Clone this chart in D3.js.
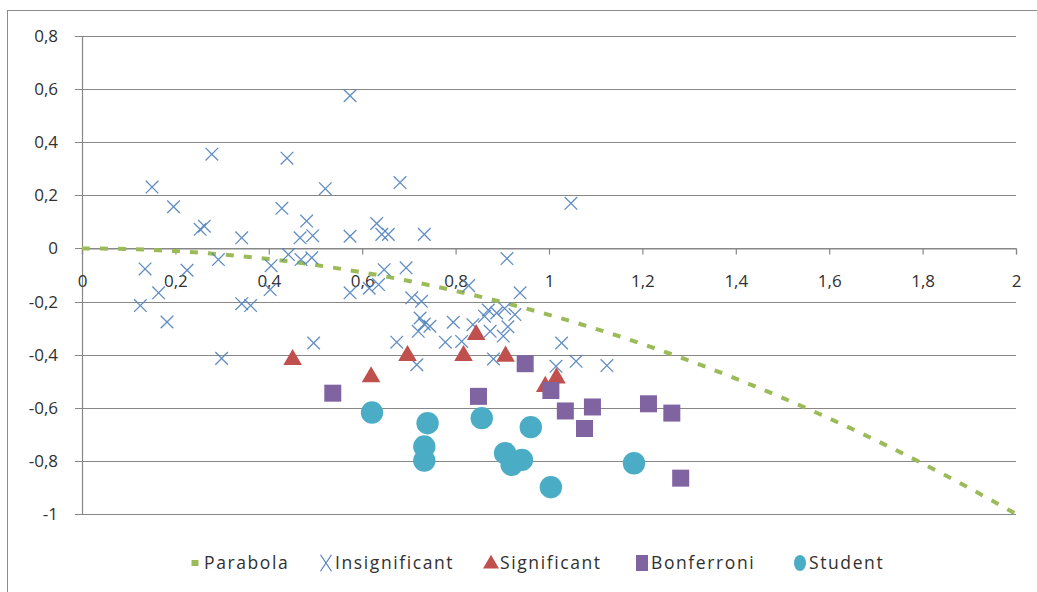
<!DOCTYPE html>
<html>
<head>
<meta charset="utf-8">
<script src="https://cdn.jsdelivr.net/npm/d3@7"></script>
<style>
  html, body { margin: 0; padding: 0; background: #ffffff; }
  svg { display: block; }
  text { font-family: "Open Sans", "Noto Sans", sans-serif; fill: #303030; }
</style>
</head>
<body>
<svg id="chart" width="1037" height="592"></svg>
<script>
// ---------------- data ----------------
const xTicks = [0, 0.2, 0.4, 0.6, 0.8, 1, 1.2, 1.4, 1.6, 1.8, 2];
const yTicks = [-1, -0.8, -0.6, -0.4, -0.2, 0, 0.2, 0.4, 0.6, 0.8];
const seriesNames = ["Parabola", "Insignificant", "Significant", "Bonferroni", "Student"];

const parabolaX = [0, 0.1, 0.2, 0.3, 0.4, 0.5, 0.6, 0.7, 0.8, 0.9, 1, 1.1, 1.2, 1.3, 1.4, 1.5, 1.6, 1.7, 1.8, 1.9, 2];
const parabolaY = [0, -0.0025, -0.01, -0.0225, -0.04, -0.0625, -0.09, -0.1225, -0.16, -0.2025, -0.25,
                   -0.3025, -0.36, -0.4225, -0.49, -0.5625, -0.64, -0.7225, -0.81, -0.9025, -1];

const insignificantX = [0.135, 0.150, 0.164, 0.125, 0.182, 0.196, 0.225, 0.253, 0.262, 0.278,
                        0.292, 0.299, 0.342, 0.342, 0.361, 0.403, 0.405, 0.428, 0.439, 0.442,
                        0.467, 0.469, 0.481, 0.494, 0.492, 0.496, 0.521, 0.574, 0.574, 0.574,
                        0.615, 0.631, 0.635, 0.642, 0.656, 0.647, 0.674, 0.681, 0.694, 0.706,
                        0.717, 0.720, 0.724, 0.727, 0.733, 0.745, 0.733, 0.778, 0.795, 0.813,
                        0.828, 0.837, 0.862, 0.874, 0.881, 0.888, 0.905, 0.902, 0.910, 0.912,
                        0.927, 0.938, 1.027, 1.015, 1.047, 1.058, 1.124, 0.870];
const insignificantY = [-0.077, 0.231, -0.167, -0.215, -0.277, 0.157, -0.082, 0.072, 0.084, 0.355,
                        -0.042, -0.414, 0.040, -0.208, -0.215, -0.155, -0.065, 0.151, 0.340, -0.023,
                        0.040, -0.042, 0.103, 0.048, -0.035, -0.356, 0.225, 0.575, 0.046, -0.167,
                        -0.150, 0.094, -0.136, 0.053, 0.053, -0.080, -0.353, 0.248, -0.073, -0.186,
                        -0.438, -0.312, -0.262, -0.199, 0.053, -0.293, -0.285, -0.353, -0.278, -0.350,
                        -0.140, -0.287, -0.255, -0.312, -0.416, -0.243, -0.226, -0.330, -0.038, -0.295,
                        -0.249, -0.167, -0.356, -0.444, 0.170, -0.425, -0.441, -0.232];

const significantX = [0.451, 0.619, 0.697, 0.817, 0.844, 0.907, 0.992, 1.016];
const significantY = [-0.419, -0.484, -0.404, -0.404, -0.325, -0.406, -0.520, -0.488];

const bonferroniX = [0.537, 0.849, 0.949, 1.004, 1.035, 1.093, 1.076, 1.213, 1.263, 1.282];
const bonferroniY = [-0.545, -0.557, -0.434, -0.535, -0.612, -0.597, -0.678, -0.585, -0.620, -0.865];

const studentX = [0.621, 0.740, 0.733, 0.733, 0.856, 0.961, 0.906, 0.942, 0.920, 1.004, 1.182];
const studentY = [-0.618, -0.658, -0.746, -0.799, -0.639, -0.673, -0.771, -0.796, -0.815, -0.899, -0.809];

const colors = { Parabola: "#9BBB59", Insignificant: "#4F81BD", Significant: "#C0504D", Bonferroni: "#8064A2", Student: "#4BACC6" };

// ---------------- chart ----------------
const svg = d3.select("#chart");
const x = d3.scaleLinear().domain([0, 2]).range([82, 1016]);
const y = d3.scaleLinear().domain([-1, 0.8]).range([514, 36]);
const fmt = v => (Math.round(v * 10) / 10).toString().replace(".", ",");
const grid = "#878787";

// frame
svg.append("rect").attr("x", 7.5).attr("y", 10.5).attr("width", 1040).attr("height", 600)
  .attr("fill", "none").attr("stroke", "#8c8c8c").attr("stroke-width", 1);

// horizontal gridlines
svg.append("g").selectAll("line").data(yTicks).join("line")
  .attr("x1", 75).attr("x2", x(2))
  .attr("y1", d => Math.round(y(d)) + 0.5).attr("y2", d => Math.round(y(d)) + 0.5)
  .attr("stroke", grid).attr("stroke-width", 1.2);

// y axis line
svg.append("line").attr("x1", x(0) + 0.5).attr("x2", x(0) + 0.5)
  .attr("y1", y(0.8)).attr("y2", y(-1)).attr("stroke", grid).attr("stroke-width", 1.2);

// x axis via d3.axisBottom positioned at y=0
const xAxis = d3.axisBottom(x).tickValues(xTicks).tickFormat(fmt).tickSize(6).tickPadding(20);
const gx = svg.append("g").attr("transform", `translate(0,${Math.round(y(0)) + 0.5})`).call(xAxis);
gx.select(".domain").attr("stroke", grid).attr("stroke-width", 1.2);
gx.selectAll(".tick line").attr("stroke", grid).attr("stroke-width", 1.2);
gx.selectAll(".tick text").attr("font-size", 17).attr("fill", "#303030")
  .style("font-family", '"Open Sans", sans-serif');

// y labels via axisLeft
const yAxis = d3.axisLeft(y).tickValues(yTicks).tickFormat(fmt).tickSize(0).tickPadding(24);
const gy = svg.append("g").attr("transform", `translate(${x(0)},0)`).call(yAxis);
gy.select(".domain").remove();
gy.selectAll(".tick text").attr("font-size", 17).attr("fill", "#303030")
  .style("font-family", '"Open Sans", sans-serif');

// parabola
const line = d3.line().x((d, i) => x(parabolaX[i])).y(d => y(d)).curve(d3.curveCatmullRom);
svg.append("path").datum(parabolaY).attr("d", line)
  .attr("fill", "none").attr("stroke", colors.Parabola).attr("stroke-width", 4)
  .attr("stroke-dasharray", "8,10");

// insignificant: X markers
const xs = 6.3;
svg.append("g").selectAll("path").data(insignificantX).join("path")
  .attr("d", (d, i) => {
    const cx = x(d), cy = y(insignificantY[i]);
    return `M${cx - xs},${cy - xs}L${cx + xs},${cy + xs}M${cx - xs},${cy + xs}L${cx + xs},${cy - xs}`;
  })
  .attr("stroke", colors.Insignificant).attr("stroke-width", 1.3).attr("fill", "none").attr("opacity", 0.9);

// significant: triangles
const tri = d3.symbol().type(d3.symbolTriangle).size(150);
svg.append("g").selectAll("path").data(significantX).join("path")
  .attr("d", tri)
  .attr("transform", (d, i) => `translate(${x(d)},${y(significantY[i])})`)
  .attr("fill", colors.Significant);

// bonferroni: squares
const sq = 17;
svg.append("g").selectAll("rect").data(bonferroniX).join("rect")
  .attr("x", d => x(d) - sq / 2)
  .attr("y", (d, i) => y(bonferroniY[i]) - sq / 2)
  .attr("width", sq).attr("height", sq)
  .attr("fill", colors.Bonferroni);

// student: circles
svg.append("g").selectAll("circle").data(studentX).join("circle")
  .attr("cx", d => x(d)).attr("cy", (d, i) => y(studentY[i])).attr("r", 11.2)
  .attr("fill", colors.Student);

// legend
const legendX = [195, 326, 491, 642, 800];
const lg = svg.append("g");
seriesNames.forEach((name, i) => {
  const cx = legendX[i], cy = 563;
  const g = lg.append("g");
  if (name === "Parabola") {
    g.append("rect").attr("x", cx - 3.5).attr("y", cy - 3).attr("width", 7).attr("height", 6).attr("fill", colors[name]);
  } else if (name === "Insignificant") {
    const s = 5.5;
    g.append("path").attr("d", `M${cx - s},${cy - s * 1.5}L${cx + s},${cy + s * 1.5}M${cx - s},${cy + s * 1.5}L${cx + s},${cy - s * 1.5}`)
      .attr("stroke", colors[name]).attr("stroke-width", 1.2).attr("fill", "none");
  } else if (name === "Significant") {
    g.append("path").attr("d", d3.symbol().type(d3.symbolTriangle).size(110)).attr("transform", `translate(${cx},${cy + 1})`).attr("fill", colors[name]);
  } else if (name === "Bonferroni") {
    g.append("rect").attr("x", cx - 6).attr("y", cy - 8).attr("width", 12).attr("height", 16).attr("fill", colors[name]);
  } else {
    g.append("ellipse").attr("cx", cx).attr("cy", cy).attr("rx", 6).attr("ry", 8).attr("fill", colors[name]);
  }
  g.append("text").attr("x", cx + 9).attr("y", cy + 6).attr("font-size", 17.5)
    .attr("letter-spacing", 1.6).text(name);
});
</script>
</body>
</html>
